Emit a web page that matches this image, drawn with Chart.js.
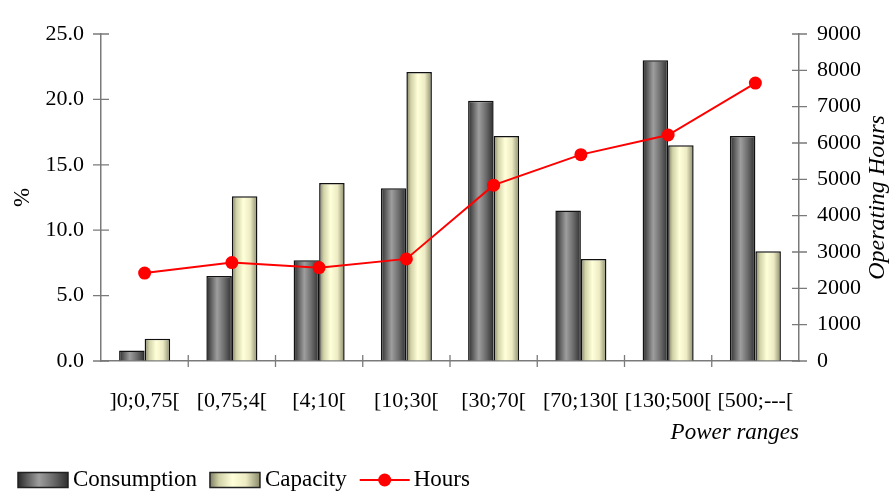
<!DOCTYPE html>
<html lang="en">
<head>
    <meta charset="UTF-8">
    <title>Power ranges</title>
    <script src="https://cdn.jsdelivr.net/npm/chart.js"></script>
    <style>
        body {
            margin: 0;
            background: #fff;
        }
        .chart-container {
            position: relative;
            width: 895px;
            height: 498px;
        }
    </style>
</head>
<body>
    <div class="chart-container">
        <canvas id="powerChart"></canvas>
    </div>

    <script>
        // podaci ocitani sa slike
        const ranges = [']0;0,75[', '[0,75;4[', '[4;10[', '[10;30[', '[30;70[', '[70;130[', '[130;500[', '[500;---['];
        const consumption = [0.8, 6.5, 7.7, 13.2, 19.9, 11.5, 23.0, 17.2];
        const capacity = [1.7, 12.6, 13.6, 22.1, 17.2, 7.8, 16.5, 8.4];
        const hours = [2420, 2710, 2570, 2810, 4840, 5680, 6220, 7650];

        const SERIF = '"Liberation Serif", "Times New Roman", serif';
        const AXIS_GREY = '#7a7a7a';
        const INK = '#000';

        const stops = {
            dark: [[0, '#2a2a2a'], [0.15, '#555555'], [0.42, '#9e9e9e'], [0.7, '#6c6c6c'], [1, '#2e2e2e']],
            pale: [[0, '#7e7e62'], [0.18, '#d2d2a8'], [0.45, '#ffffd9'], [0.72, '#ecebc3'], [1, '#8a8a6c']]
        };

        function stripe(ctx, x, w, kind) {
            const g = ctx.createLinearGradient(x, 0, x + w, 0);
            stops[kind].forEach(s => g.addColorStop(s[0], s[1]));
            return g;
        }

        // cilindricno sjencanje stupaca
        const barShading = {
            id: 'barShading',
            beforeDatasetDraw(chart, args) {
                const ds = chart.data.datasets[args.index];
                if (!ds.shade) return;
                const meta = chart.getDatasetMeta(args.index);
                meta.data.forEach(el => {
                    const left = el.x - el.width / 2;
                    el.options = Object.assign({}, el.options, {
                        backgroundColor: stripe(chart.ctx, left, el.width, ds.shade)
                    });
                });
            }
        };

        // crtice koje prelaze preko osi, naslov desne osi i legenda
        const extras = {
            id: 'extras',
            afterDraw(chart) {
                const ctx = chart.ctx;
                const x = chart.scales.x, y = chart.scales.y, y1 = chart.scales.y1;
                ctx.save();
                ctx.strokeStyle = AXIS_GREY;
                ctx.lineWidth = 1.3;
                ctx.beginPath();
                y.ticks.forEach(t => {
                    const py = y.getPixelForValue(t.value);
                    ctx.moveTo(y.right - 8, py); ctx.lineTo(y.right + 8, py);
                });
                y1.ticks.forEach(t => {
                    const py = y1.getPixelForValue(t.value);
                    ctx.moveTo(y1.left - 7, py); ctx.lineTo(y1.left + 8, py);
                });
                for (let i = 1; i < ranges.length; i++) {
                    const px = x.getPixelForValue(i - 0.5);
                    ctx.moveTo(px, x.top - 6); ctx.lineTo(px, x.top + 6);
                }
                ctx.stroke();

                // Operating Hours
                ctx.fillStyle = INK;
                ctx.font = 'italic 24px ' + SERIF;
                ctx.textAlign = 'center';
                ctx.textBaseline = 'middle';
                ctx.translate(878, (chart.chartArea.top + chart.chartArea.bottom) / 2);
                ctx.rotate(-Math.PI / 2);
                ctx.fillText('Operating Hours', 0, 0);
                ctx.restore();

                // legenda
                ctx.save();
                ctx.font = '23px ' + SERIF;
                ctx.textBaseline = 'middle';
                const ly = 480;
                let lx = 18;
                chart.data.datasets.forEach(ds => {
                    if (ds.shade) {
                        ctx.fillStyle = stripe(ctx, lx, 50, ds.shade);
                        ctx.fillRect(lx, ly - 7.5, 50, 15);
                        ctx.strokeStyle = '#222';
                        ctx.lineWidth = 1.5;
                        ctx.strokeRect(lx, ly - 7.5, 50, 15);
                        lx += 55;
                    } else {
                        ctx.strokeStyle = ds.borderColor;
                        ctx.lineWidth = 2;
                        ctx.beginPath();
                        ctx.moveTo(lx, ly); ctx.lineTo(lx + 50, ly);
                        ctx.stroke();
                        ctx.fillStyle = ds.borderColor;
                        ctx.beginPath();
                        ctx.arc(lx + 25, ly, 6.5, 0, Math.PI * 2);
                        ctx.fill();
                        lx += 54;
                    }
                    ctx.fillStyle = INK;
                    ctx.fillText(ds.label, lx, ly);
                    lx += ctx.measureText(ds.label).width + 13;
                });
                ctx.restore();
            }
        };

        const ctx = document.getElementById('powerChart').getContext('2d');
        const chart = new Chart(ctx, {
            type: 'bar',
            data: {
                labels: ranges,
                datasets: [{
                    label: 'Consumption',
                    data: consumption,
                    shade: 'dark',
                    backgroundColor: '#777',
                    borderColor: '#111',
                    borderWidth: 1.5,
                    yAxisID: 'y',
                    order: 2
                }, {
                    label: 'Capacity',
                    data: capacity,
                    shade: 'pale',
                    backgroundColor: '#eeeec8',
                    borderColor: '#111',
                    borderWidth: 1.5,
                    yAxisID: 'y',
                    order: 2
                }, {
                    type: 'line',
                    label: 'Hours',
                    data: hours,
                    borderColor: '#ff0000',
                    backgroundColor: '#ff0000',
                    borderWidth: 2,
                    pointRadius: 6.5,
                    pointBorderWidth: 0,
                    tension: 0,
                    yAxisID: 'y1',
                    order: 0
                }]
            },
            options: {
                responsive: true,
                maintainAspectRatio: false,
                animation: false,
                datasets: {
                    bar: { categoryPercentage: 0.585, barPercentage: 1 }
                },
                layout: { padding: { top: 34, left: 0, right: 0, bottom: 0 } },
                plugins: {
                    legend: { display: false },
                    tooltip: { enabled: false }
                },
                scales: {
                    x: {
                        afterFit: s => { s.height = 137; },
                        grid: { display: true, drawOnChartArea: false, drawTicks: false },
                        border: { color: AXIS_GREY, width: 1.5 },
                        ticks: {
                            color: INK,
                            padding: 27,
                            autoSkip: false,
                            maxRotation: 0,
                            font: { family: SERIF, size: 22 }
                        },
                        title: {
                            display: true,
                            text: 'Power ranges',
                            align: 'end',
                            color: INK,
                            padding: { bottom: 51 },
                            font: { family: SERIF, size: 23, style: 'italic' }
                        }
                    },
                    y: {
                        position: 'left',
                        min: 0,
                        max: 25,
                        afterFit: s => { s.width = 101; },
                        grid: { display: true, drawOnChartArea: false, drawTicks: false },
                        border: { color: AXIS_GREY, width: 1.5 },
                        ticks: {
                            stepSize: 5,
                            color: INK,
                            padding: 17,
                            font: { family: SERIF, size: 22 },
                            callback: v => v.toFixed(1)
                        },
                        title: {
                            display: true,
                            text: '%',
                            color: INK,
                            padding: { top: 9 },
                            font: { family: SERIF, size: 23 }
                        }
                    },
                    y1: {
                        position: 'right',
                        min: 0,
                        max: 9000,
                        afterFit: s => { s.width = 96; },
                        grid: { display: true, drawOnChartArea: false, drawTicks: false },
                        border: { color: AXIS_GREY, width: 1.5 },
                        ticks: {
                            stepSize: 1000,
                            color: INK,
                            padding: 18,
                            font: { family: SERIF, size: 22 },
                            callback: v => String(v)
                        }
                    }
                }
            },
            plugins: [barShading, extras]
        });
    </script>
</body>
</html>
